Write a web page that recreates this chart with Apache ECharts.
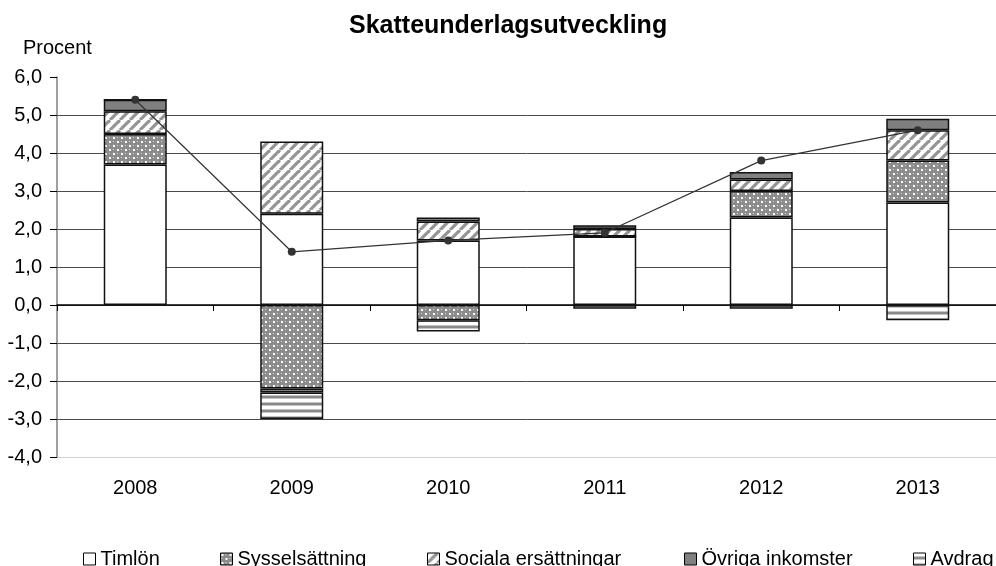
<!DOCTYPE html>
<html>
<head>
<meta charset="utf-8">
<script src="https://cdn.jsdelivr.net/npm/echarts@6/dist/echarts.min.js"></script>
<style>
html,body{margin:0;padding:0;background:#fff;}
#chart{width:996px;height:566px;}
</style>
</head>
<body>
<div id="chart"></div>
<script>
const categories = ['2008', '2009', '2010', '2011', '2012', '2013'];
const timlon = [3.7, 2.4, 1.7, 1.8, 2.3, 2.7];
const sysselsattning = [0.8, -2.2, -0.4, 0, 0.7, 1.1];
const sociala = [0.6, 1.9, 0.5, 0.2, 0.3, 0.8];
const ovriga = [0.3, -0.1, 0.1, 0.1, 0.2, 0.3];
const avdrag = [0, -0.7, -0.3, -0.1, -0.1, -0.4];
const totalt = [5.4, 1.4, 1.7, 1.9, 3.8, 4.6];
const yTicks = [-4, -3, -2, -1, 0, 1, 2, 3, 4, 5, 6];
const seriesNames = ['Timlön', 'Sysselsättning', 'Sociala ersättningar', 'Övriga inkomster', 'Avdrag'];

function tile(w, h, draw) {
  const c = document.createElement('canvas');
  c.width = w; c.height = h;
  const ctx = c.getContext('2d');
  draw(ctx);
  return { image: c, repeat: 'repeat' };
}
const dotPattern = tile(8, 8, ctx => {
  ctx.fillStyle = '#8c8c8c'; ctx.fillRect(0, 0, 8, 8);
  ctx.fillStyle = '#ffffff';
  ctx.fillRect(1, 1, 2, 2); ctx.fillRect(5, 5, 2, 2);
  ctx.fillStyle = '#d8d8d8';
  ctx.fillRect(5, 1, 1, 1); ctx.fillRect(1, 5, 1, 1);
});
const diagPattern = tile(10, 10, ctx => {
  ctx.fillStyle = '#ffffff'; ctx.fillRect(0, 0, 10, 10);
  ctx.strokeStyle = '#959595'; ctx.lineWidth = 3.2;
  [-10, 0, 10].forEach(ox => {
    ctx.beginPath(); ctx.moveTo(ox, 10); ctx.lineTo(ox + 10, 0); ctx.stroke();
  });
});
const horizPattern = tile(4, 7, ctx => {
  ctx.fillStyle = '#ffffff'; ctx.fillRect(0, 0, 4, 7);
  ctx.fillStyle = '#c4c4c4'; ctx.fillRect(0, 3, 4, 1); ctx.fillRect(0, 6, 4, 1);
  ctx.fillStyle = '#8a8a8a'; ctx.fillRect(0, 4, 4, 2);
});
const fills = ['#ffffff', dotPattern, diagPattern, '#808080', horizPattern];
const dataSets = [timlon, sysselsattning, sociala, ovriga, avdrag];

const chart = echarts.init(document.getElementById('chart'), null, { renderer: 'canvas' });
const legendLeft = [78, 215, 422, 679, 908];
const splitColors = yTicks.map((v, i) => i === 0 ? '#d0d0d0' : (i === yTicks.length - 1 ? 'rgba(0,0,0,0)' : '#4a4a4a'));

const option = {
  animation: false,
  backgroundColor: '#ffffff',
  textStyle: { fontFamily: 'Liberation Sans, Arial, sans-serif' },
  title: [
    { text: 'Skatteunderlagsutveckling', left: 344, top: 9,
      textStyle: { fontSize: 25, fontWeight: 'bold', color: '#000', fontFamily: 'Liberation Sans' } },
    { text: 'Procent', left: 18, top: 33,
      textStyle: { fontSize: 20, fontWeight: 'normal', color: '#000', fontFamily: 'Liberation Sans' } }
  ],
  legend: seriesNames.map((n, i) => ({
    data: [{ name: n, icon: 'rect' }], left: legendLeft[i], top: 544, itemWidth: 12, itemHeight: 12,
    selectedMode: false,
    textStyle: { fontSize: 20, color: '#000', fontFamily: 'Liberation Sans' },
    itemStyle: { borderColor: '#000', borderWidth: 1 }
  })),
  grid: { left: 57, top: 77, width: 948, height: 380 },
  xAxis: [
    { type: 'category', data: categories, position: 'bottom',
      axisLine: { show: false, onZero: false }, axisTick: { show: false },
      axisLabel: { fontSize: 20, color: '#000', margin: 21, fontFamily: 'Liberation Sans' } },
    { type: 'category', data: categories, position: 'top',
      axisLine: { show: true, onZero: true, onZeroAxisIndex: 0, lineStyle: { color: '#000', width: 1.5 } },
      axisTick: { show: true, inside: true, length: 6, lineStyle: { color: '#000', width: 1 } },
      axisLabel: { show: false }, splitLine: { show: false } }
  ],
  yAxis: {
    type: 'value', min: -4, max: 6, interval: 1,
    axisLine: { show: true, lineStyle: { color: '#808080', width: 1.5 } },
    axisTick: { show: true, length: 7, lineStyle: { color: '#000' } },
    axisLabel: { fontSize: 20, color: '#000', margin: 15, fontFamily: 'Liberation Sans',
      formatter: v => v.toFixed(1).replace('.', ',') },
    splitLine: { show: true, lineStyle: { color: splitColors, width: 1 } }
  },
  series: seriesNames.map((n, i) => ({
    name: n, type: 'bar', stack: 'total', xAxisIndex: 0, barWidth: 63,
    data: dataSets[i],
    itemStyle: { color: fills[i], borderColor: '#111', borderWidth: 1.5 },
    emphasis: { disabled: true }
  })).concat([{
    name: 'Totalt', type: 'line', data: totalt, xAxisIndex: 0, z: 10,
    symbol: 'circle', symbolSize: 8,
    lineStyle: { color: '#333', width: 1.2 },
    itemStyle: { color: '#333' },
    emphasis: { disabled: true }
  }])
};
chart.setOption(option);
</script>
</body>
</html>
